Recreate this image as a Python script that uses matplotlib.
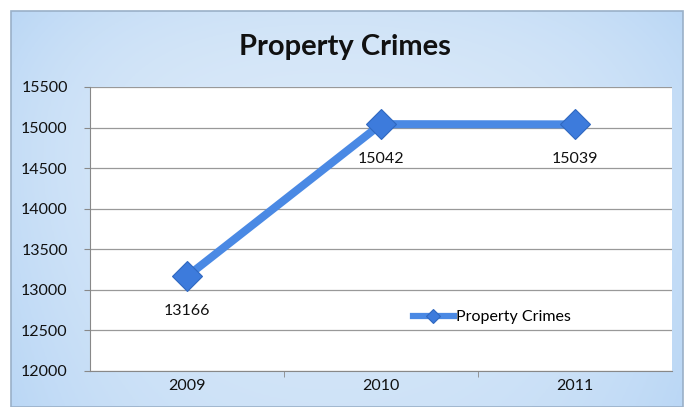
import matplotlib as mpl
from matplotlib import pyplot as plt
import numpy as np

mpl.rcParams['font.family'] = ['Lato', 'DejaVu Sans']

years = ['2009', '2010', '2011']
crimes = [13166, 15042, 15039]
yticks = [12000, 12500, 13000, 13500, 14000, 14500, 15000, 15500]

fig = plt.figure(figsize=(6.89, 4.07), dpi=100)

# light blue gradient panel behind the chart
bg = fig.add_axes([0, 0, 1, 1], zorder=-5)
bg.set_xlim(0, 1)
bg.set_ylim(0, 1)
bg.axis('off')
gx, gy = np.meshgrid(np.linspace(0, 1, 200), np.linspace(0, 1, 200))
shade = 0.3 * gy + 0.3 * gx ** 5 + 0.3 * (1 - gx) ** 6 + 0.3 * (1 - gy) ** 4
top = np.array([0.90, 0.94, 0.98])
deep = np.array([0.62, 0.78, 0.95])
img = top[None, None, :] * (1 - shade[..., None]) + deep[None, None, :] * shade[..., None]
x0, x1, y0, y1 = 11 / 689, 683 / 689, 0, 1 - 11 / 407
bg.imshow(img, extent=[x0, x1, y0, y1], aspect='auto', origin='upper')
bg.add_patch(plt.Rectangle((x0, y0), x1 - x0, y1 - y0, fill=False,
                           edgecolor='#9ab0c8', linewidth=1.2))

ax = fig.add_axes([90 / 689, 1 - 371 / 407, 582 / 689, 284 / 407])
ax.set_facecolor('white')
x = np.arange(len(years))
ax.plot(x, crimes, color='#4a89e4', linewidth=5.8, marker='D', markersize=15,
        markerfacecolor='#3d7bdc', markeredgecolor='#3068c0', markeredgewidth=0.8,
        label='Property Crimes', zorder=3)

for xi, v in zip(x, crimes):
    ax.annotate(str(v), (xi, v), xytext=(0, -25), textcoords='offset points',
                ha='center', va='center', fontsize=11.5, color='#111111')

ax.set_xlim(-0.5, 2.5)
ax.set_ylim(12000, 15500)
ax.set_yticks(yticks)
ax.set_xticks(x)
ax.set_xticklabels(years)
ax.tick_params(axis='both', labelsize=11.5, colors='#111111', length=0, pad=6)
ax.tick_params(axis='y', length=4, color='#888888', direction='out', pad=12)
ax.set_xticks([0.5, 1.5], minor=True)
ax.tick_params(axis='x', which='minor', length=4, color='#888888')
ax.grid(axis='y', color='#999999', linewidth=0.9)
for s in ['top', 'right']:
    ax.spines[s].set_visible(False)
ax.spines['left'].set_color('#888888')
ax.spines['bottom'].set_color('#888888')

leg = ax.legend(loc='center', bbox_to_anchor=(0.69, 0.19), frameon=False, fontsize=11.5,
                handlelength=2.6, handletextpad=0.1, markerscale=0.5)
leg.get_lines()[0].set_linewidth(4.5)

fig.text(0.5, 1 - 47 / 407, 'Property Crimes', ha='center', va='center',
         fontsize=21, fontweight='bold', color='#111111')

plt.savefig('out.png', dpi=100)
